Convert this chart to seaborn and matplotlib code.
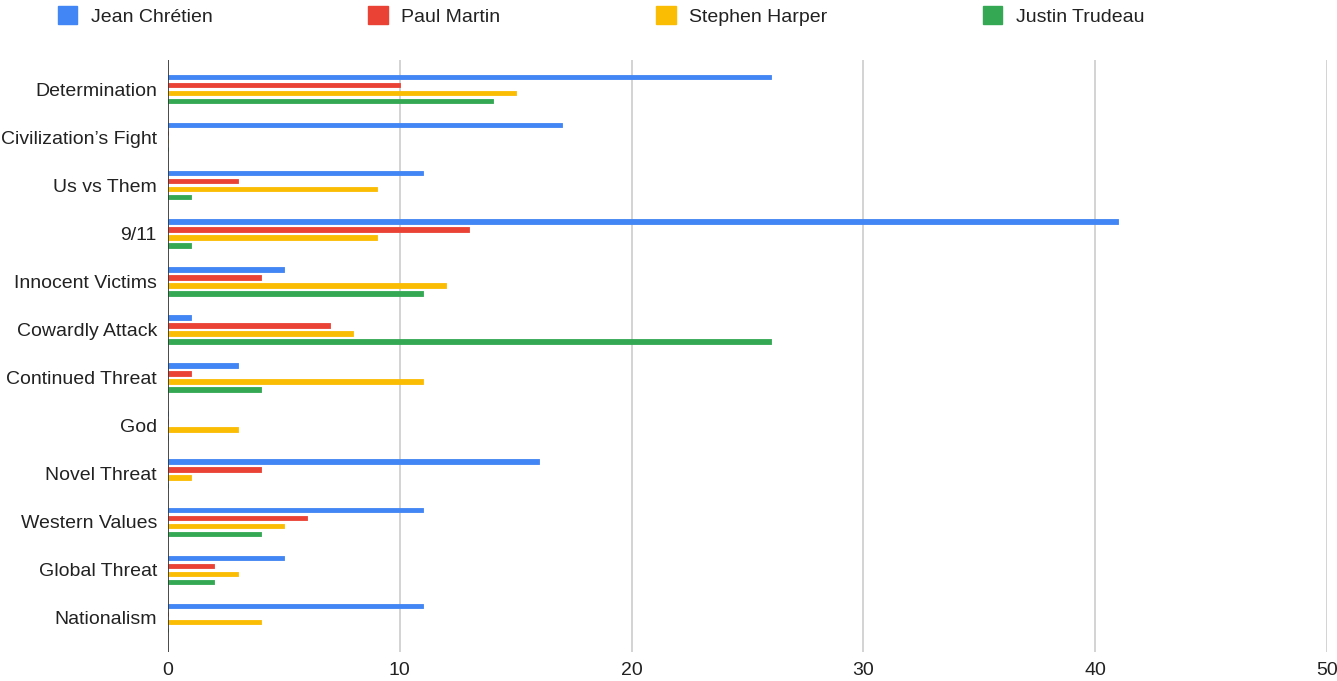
import numpy as np
import pandas as pd
import matplotlib
matplotlib.use("Agg")
import matplotlib.pyplot as plt
import matplotlib.patches as mpatches
import seaborn as sns

categories = ["Determination", "Civilization\u2019s Fight", "Us vs Them", "9/11",
              "Innocent Victims", "Cowardly Attack", "Continued Threat", "God",
              "Novel Threat", "Western Values", "Global Threat", "Nationalism"]
leaders = ["Jean Chr\u00e9tien", "Paul Martin", "Stephen Harper", "Justin Trudeau"]
chretien = [26, 17, 11, 41, 5, 1, 3, 0, 16, 11, 5, 11]
martin = [10, 0, 3, 13, 4, 7, 1, 0, 4, 6, 2, 0]
harper = [15, 0, 9, 9, 12, 8, 11, 3, 1, 5, 3, 4]
trudeau = [14, 0, 1, 1, 11, 26, 4, 0, 0, 4, 2, 0]
colors = ["#4285F4", "#EA4335", "#FBBC04", "#34A853"]

rows = []
for name, vals in zip(leaders, [chretien, martin, harper, trudeau]):
    for c, v in zip(categories, vals):
        rows.append({"theme": c, "leader": name, "count": v})
df = pd.DataFrame(rows)

sns.set_style("white")
plt.rcParams["font.family"] = ["Liberation Sans", "DejaVu Sans"]

fig = plt.figure(figsize=(13.37, 6.81), dpi=100)
ax = fig.add_axes([168/1337, 1-652/681, (1327-168)/1337, (652-60)/681])

px = 48.09  # pixels per category
sns.barplot(data=df, y="theme", x="count", hue="leader", order=categories,
            hue_order=leaders, palette=colors, orient="h", width=32/px,
            saturation=1, legend=False, ax=ax, linewidth=0)

# thin the bars like the original, keep centres
thick = 4.5/px
for p in ax.patches:
    cy = p.get_y() + p.get_height()/2
    p.set_y(cy - thick/2)
    p.set_height(thick)
    p.set_edgecolor(p.get_facecolor())
    p.set_linewidth(0.6)
    p.set_joinstyle("round")

ax.set_xlim(0, 50)
ax.set_ylim(-29/px + 592/px, -29/px)
ax.set_xticks([0, 10, 20, 30, 40, 50])
ax.xaxis.grid(True, color="#cccccc", linewidth=1.2)
ax.set_axisbelow(True)
ax.axvline(0, color="#333333", linewidth=1.2, zorder=5)
for s in ax.spines.values():
    s.set_visible(False)
ax.set_xlabel("")
ax.set_ylabel("")
ax.tick_params(axis="both", length=0, labelsize=14, colors="#222222")
ax.tick_params(axis="x", pad=7)
ax.tick_params(axis="y", pad=8)

handles = [mpatches.Patch(color=c, label=l) for c, l in zip(colors, leaders)]
fig.legend(handles=handles, loc="center left", bbox_to_anchor=(58/1337, 1-16/681),
           ncol=4, frameon=False, fontsize=14, handlelength=1.0, handleheight=1.0,
           handletextpad=0.7, columnspacing=8.0, borderpad=0, borderaxespad=0,
           labelcolor="#222222")

fig.savefig("out.png", dpi=100, facecolor="white")
